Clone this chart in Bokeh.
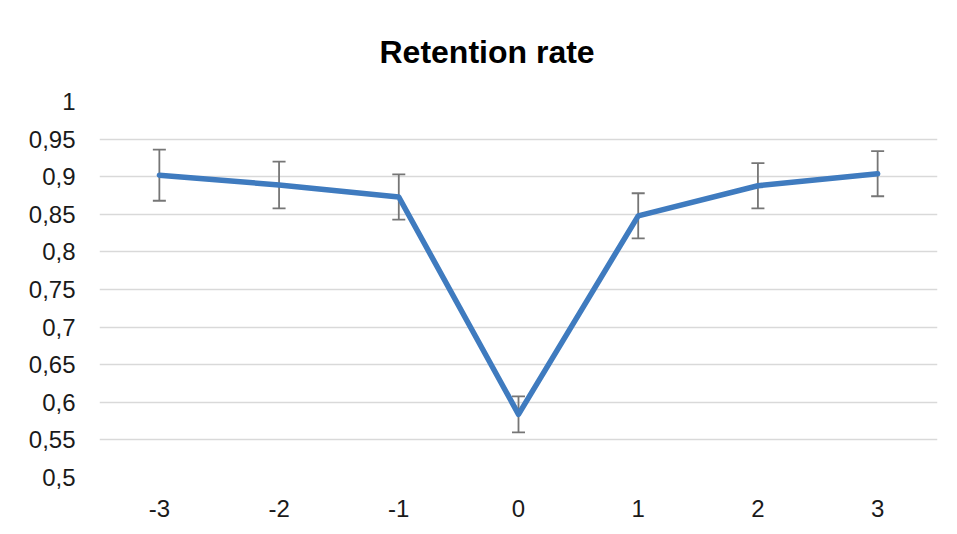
from bokeh.plotting import figure
from bokeh.models import ColumnDataSource, Whisker, TeeHead, FixedTicker, CustomJSTickFormatter
from bokeh.embed import file_html
from bokeh.resources import INLINE

# data
periods = [-3, -2, -1, 0, 1, 2, 3]
retention = [0.902, 0.889, 0.873, 0.584, 0.848, 0.888, 0.904]
errors = [0.034, 0.031, 0.030, 0.024, 0.030, 0.030, 0.030]
y_ticks = [0.5, 0.55, 0.6, 0.65, 0.7, 0.75, 0.8, 0.85, 0.9, 0.95, 1.0]

upper = [r + e for r, e in zip(retention, errors)]
lower = [r - e for r, e in zip(retention, errors)]
src = ColumnDataSource(dict(x=periods, y=retention, upper=upper, lower=lower))

p = figure(width=949, height=526, output_backend="svg", toolbar_location=None,
           x_range=(-3.5, 3.5), y_range=(0.5, 1.0),
           min_border_left=99, min_border_right=12, min_border_top=101, min_border_bottom=49,
           title="Retention rate")
p.background_fill_color = "white"
p.border_fill_color = "white"
p.outline_line_color = None

p.title.align = "left"
p.title.offset = 280
p.title.text_font = "Liberation Sans"
p.title.text_font_size = "32px"
p.title.text_font_style = "bold"
p.title.text_color = "black"
p.title.standoff = 63

# grid
p.xgrid.visible = False
p.ygrid.ticker = FixedTicker(ticks=y_ticks)
p.ygrid.grid_line_color = "#d9d9d9"
p.ygrid.grid_line_width = 1.3

# axes
for ax in (p.xaxis[0], p.yaxis[0]):
    ax.axis_line_color = None
    ax.major_tick_line_color = None
    ax.minor_tick_line_color = None
    ax.major_tick_out = 0
    ax.major_tick_in = 0
    ax.minor_tick_out = 0
    ax.minor_tick_in = 0
    ax.major_label_text_font = "Liberation Sans"
    ax.major_label_text_font_size = "24px"
    ax.major_label_text_color = "#1a1a1a"

fmt_code = """
    var s = (Math.round(tick*100)/100).toString();
    return s.replace('.', ',');
"""
p.xaxis.ticker = FixedTicker(ticks=periods)
p.xaxis.major_label_standoff = 22
p.xaxis.formatter = CustomJSTickFormatter(code=fmt_code)
p.yaxis.ticker = FixedTicker(ticks=y_ticks)
p.yaxis.major_label_standoff = 24
p.yaxis.formatter = CustomJSTickFormatter(code=fmt_code)

p.line("x", "y", source=src, line_color="#3f7bbf", line_width=5.5, line_join="round", line_cap="round")

w = Whisker(base="x", upper="upper", lower="lower", source=src,
            line_color="#767676", line_width=1.8,
            upper_head=TeeHead(size=13, line_color="#767676", line_width=1.8),
            lower_head=TeeHead(size=13, line_color="#767676", line_width=1.8))
w.level = "underlay"
p.add_layout(w)

open("out.html", "w").write(file_html(p, INLINE))
